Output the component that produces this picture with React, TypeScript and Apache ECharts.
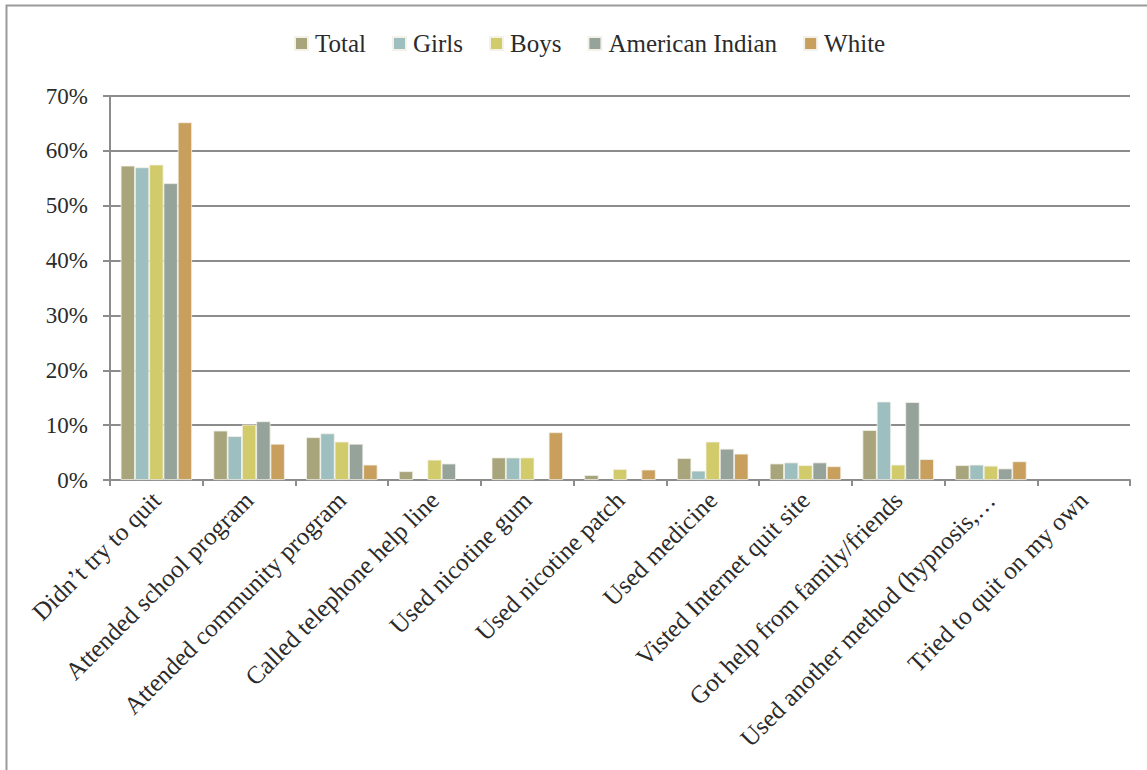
import React, { useEffect, useRef } from "react";
import * as echarts from "echarts";

const categories = [
  "Didn\u2019t try to quit",
  "Attended school program",
  "Attended community program",
  "Called telephone help line",
  "Used nicotine gum",
  "Used nicotine patch",
  "Used medicine",
  "Visted Internet quit site",
  "Got help from family/friends",
  "Used another method (hypnosis,\u2026",
  "Tried to quit on my own",
];

const total = [57.3, 9.0, 7.8, 1.6, 4.1, 0.9, 4.0, 3.0, 9.1, 2.7, null];
const girls = [57.0, 8.0, 8.5, null, 4.1, null, 1.7, 3.2, 14.3, 2.8, null];
const boys = [57.5, 10.1, 7.0, 3.7, 4.1, 2.0, 7.0, 2.7, 2.8, 2.6, null];
const americanIndian = [54.1, 10.7, 6.6, 3.0, null, null, 5.7, 3.2, 14.2, 2.1, null];
const white = [65.2, 6.6, 2.8, null, 8.7, 1.9, 4.8, 2.5, 3.8, 3.4, null];

const seriesNames = ["Total", "Girls", "Boys", "American Indian", "White"];
const seriesData = [total, girls, boys, americanIndian, white];
const colors = ["#A8A57C", "#9DBFBF", "#D2CB6C", "#95A39B", "#C89F5D"];

const FONT = "'Liberation Serif', 'DejaVu Serif', serif";

export default function App() {
  const ref = useRef<HTMLDivElement>(null);
  useEffect(() => {
    if (!ref.current) return;
    const chart = echarts.init(ref.current, null, { renderer: "svg" });
    chart.setOption({
      animation: false,
      backgroundColor: "#ffffff",
      color: colors,
      textStyle: { fontFamily: FONT },
      graphic: [
        {
          type: "rect",
          shape: { x: 6.5, y: 5.5, width: 1160, height: 780 },
          style: { fill: "none", stroke: "#9a9a9a", lineWidth: 2 },
          silent: true,
        },
      ],
      legend: {
        left: 289,
        top: 26,
        itemWidth: 13,
        itemHeight: 13,
        itemGap: 26,
        icon: "rect",
        textStyle: { fontFamily: FONT, fontSize: 25, color: "#2b2b2b", padding: [0, 0, 0, 2] },
        data: seriesNames,
      },
      grid: { left: 110, right: 17, top: 96, bottom: 290, containLabel: false },
      xAxis: {
        type: "category",
        data: categories,
        axisLine: { lineStyle: { color: "#8c8c8c", width: 2 } },
        axisTick: { show: true, length: 6, lineStyle: { color: "#8c8c8c", width: 2 } },
        axisLabel: {
          interval: 0,
          rotate: 45,
          margin: 16,
          fontFamily: FONT,
          fontSize: 25,
          color: "#2b2b2b",
        },
      },
      yAxis: {
        type: "value",
        min: 0,
        max: 70,
        interval: 10,
        axisLine: { show: true, lineStyle: { color: "#8c8c8c", width: 2 } },
        axisTick: { show: true, length: 7, lineStyle: { color: "#8c8c8c", width: 2 } },
        splitLine: { lineStyle: { color: "#8c8c8c", width: 2 } },
        axisLabel: {
          formatter: "{value}%",
          margin: 22,
          fontFamily: FONT,
          fontSize: 23,
          color: "#2b2b2b",
        },
      },
      series: seriesNames.map((name, i) => ({
        name,
        type: "bar",
        data: seriesData[i],
        barGap: "0%",
        barCategoryGap: "23%",
        itemStyle: { color: colors[i], borderColor: "#f4f1e8", borderWidth: 0.8 },
      })),
    });
    return () => chart.dispose();
  }, []);
  return (
    <div
      ref={ref}
      style={{ position: "fixed", left: 0, top: 0, width: 1147, height: 770 }}
    />
  );
}
